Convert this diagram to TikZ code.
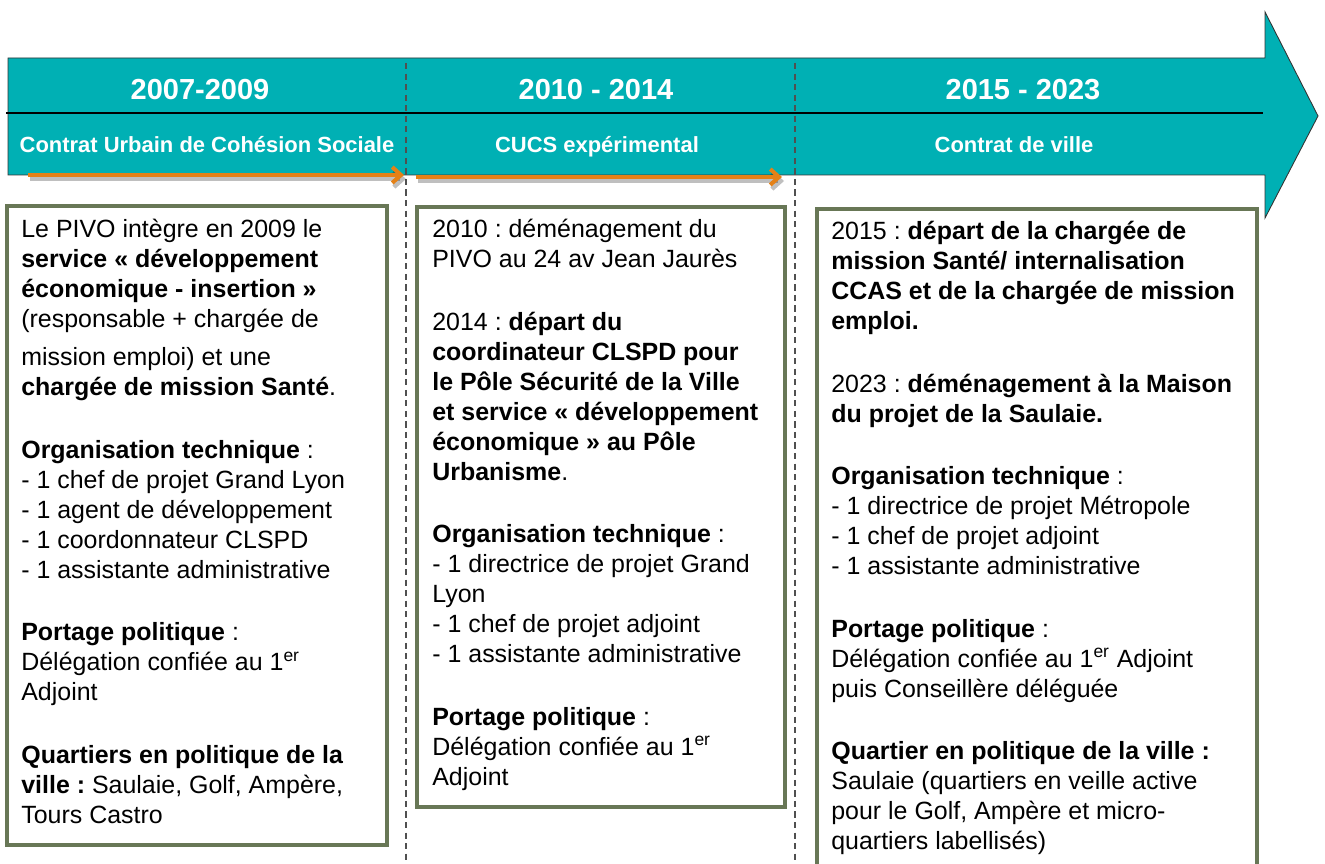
\documentclass[tikz,border=0pt]{standalone}
\usepackage{fontspec}
\setmainfont{Liberation Sans}
\usepackage{tikz}
\usetikzlibrary{arrows.meta}
\frenchspacing
\definecolor{mteal}{RGB}{0, 176, 180}
\definecolor{morange}{RGB}{228, 129, 23}
\definecolor{mgreen}{RGB}{104, 119, 86}
\definecolor{mdash}{RGB}{80, 80, 80}
\tikzset{yeartxt/.style = {anchor = base, text = white, inner sep = 0, font = \fontsize{16.5}{20}\selectfont\bfseries}}
\tikzset{phasetxt/.style = {anchor = base, text = white, inner sep = 0, font = \fontsize{12.5}{15}\selectfont\bfseries}}
\tikzset{periodbox/.style = {draw = mgreen, line width = 1.9pt, fill = white}}
\tikzset{boxtxt/.style = {anchor = north west, align = left, inner sep = 0, font = \fontsize{14.2}{17.07}\selectfont}}
\tikzset{yearsep/.style = {mdash, line width = 0.8pt, dash pattern = on 3.5pt off 2.5pt}}
\tikzset{progress/.style = {morange, line width = 2.3pt, -{Straight Barb[length = 5pt, width = 9pt]}}}
\tikzset{progshadow/.style = {black, opacity = 0.25, line width = 2.6pt, -{Straight Barb[length = 5pt, width = 9pt]}}}

\begin{document}
\begin{tikzpicture}[x = 0.02cm, y = -0.02cm]
    \clip (0, 0) rectangle (1325, 864);

    % big arrow
    \draw [fill = mteal, draw = black!80, line width = 0.5pt] (8, 58) -- (1265, 58) -- (1265, 12)
        -- (1318, 116) -- (1265, 218) -- (1265, 175) -- (8, 175) -- cycle;
    \draw [line width = 0.6pt] (6, 113) -- (1263, 113);

    \node [yeartxt] (y1) at (200, 100) {2007-2009};
    \node [yeartxt] (y2) at (596, 100) {2010 - 2014};
    \node [yeartxt] (y3) at (1023, 100) {2015 - 2023};
    \node [phasetxt] (c1) at (207, 153) {Contrat Urbain de Cohésion Sociale};
    \node [phasetxt] (c2) at (597, 153) {CUCS expérimental};
    \node [phasetxt] (c3) at (1014, 153) {Contrat de ville};

    \draw [yearsep] (406, 63) -- (406, 864);
    \draw [yearsep] (795, 63) -- (795, 864);

    \coordinate (p1s) at (28, 175);
    \coordinate (p1e) at (404, 175);
    \coordinate (p2s) at (416, 177);
    \coordinate (p2e) at (782, 177);
    \draw [progshadow] ([shift = {(2, 4)}] p1s) -- ([shift = {(2, 4)}] p1e);
    \draw [progshadow] ([shift = {(2, 4)}] p2s) -- ([shift = {(2, 4)}] p2e);
    \draw [progress] (p1s) -- (p1e);
    \draw [progress] (p2s) -- (p2e);

    % boxes
    \draw [periodbox] (7, 206) rectangle (387, 845);
    \draw [periodbox] (417, 207) rectangle (785, 807);
    \draw [periodbox] (817, 209) rectangle (1257, 880);

    \node [boxtxt] (t1) at (21, 219) {Le PIVO intègre en 2009 le\\
        \textbf{service « développement}\\
        \textbf{économique - insertion »}\\
        (responsable + chargée de\\[4.6pt]
        mission emploi) et une\\
        \textbf{chargée de mission Santé}.\\[18.5pt]
        \textbf{Organisation technique} :\\
        - 1 chef de projet Grand Lyon\\
        - 1 agent de développement\\
        - 1 coordonnateur CLSPD\\
        - 1 assistante administrative\\[18.5pt]
        \textbf{Portage politique} :\\
        Délégation confiée au 1\textsuperscript{er}\\
        Adjoint\\[18.5pt]
        \textbf{Quartiers en politique de la}\\
        \textbf{ville :} Saulaie, Golf, Ampère,\\
        Tours Castro};

    \node [boxtxt] (t2) at (432, 219) {2010 : déménagement du\\
        PIVO au 24 av Jean Jaurès\\[18.5pt]
        2014 : \textbf{départ du}\\
        \textbf{coordinateur CLSPD pour}\\
        \textbf{le Pôle Sécurité de la Ville}\\
        \textbf{et service « développement}\\
        \textbf{économique » au Pôle}\\
        \textbf{Urbanisme}.\\[18.5pt]
        \textbf{Organisation technique} :\\
        - 1 directrice de projet Grand\\
        Lyon\\
        - 1 chef de projet adjoint\\
        - 1 assistante administrative\\[18.5pt]
        \textbf{Portage politique} :\\
        Délégation confiée au 1\textsuperscript{er}\\
        Adjoint};

    \node [boxtxt] (t3) at (831, 221) {2015 : \textbf{départ de la chargée de}\\
        \textbf{mission Santé/ internalisation}\\
        \textbf{CCAS et de la chargée de mission}\\
        \textbf{emploi.}\\[18.5pt]
        2023 : \textbf{déménagement à la Maison}\\
        \textbf{du projet de la Saulaie.}\\[18.5pt]
        \textbf{Organisation technique} :\\
        - 1 directrice de projet Métropole\\
        - 1 chef de projet adjoint\\
        - 1 assistante administrative\\[18.5pt]
        \textbf{Portage politique} :\\
        Délégation confiée au 1\textsuperscript{er} Adjoint\\
        puis Conseillère déléguée\\[18.5pt]
        \textbf{Quartier en politique de la ville :}\\
        Saulaie (quartiers en veille active\\
        pour le Golf, Ampère et micro-\\
        quartiers labellisés)};
\end{tikzpicture}
\end{document}
